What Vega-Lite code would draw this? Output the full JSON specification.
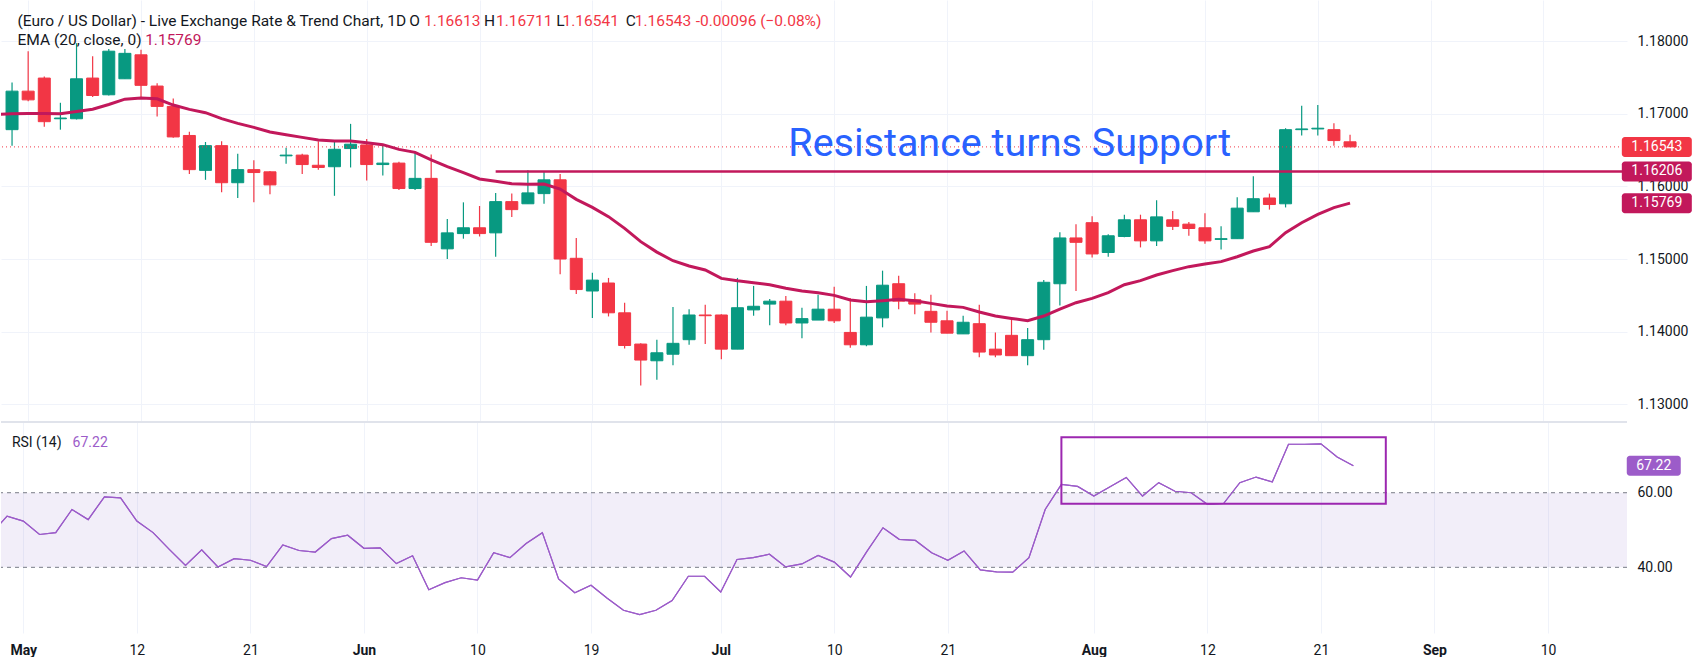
{
  "$schema": "https://vega.github.io/schema/vega-lite/v6.json",
  "padding": 0,
  "background": "white",
  "spacing": 0,
  "config": {
    "view": {"stroke": null},
    "font": "Roboto",
    "axis": {"labelFont": "Roboto", "labelColor": "#131722", "labelFontSize": 14, "gridColor": "#F0F3FA", "gridWidth": 1, "domain": false, "ticks": false, "title": null},
    "text": {"font": "Roboto"}
  },
  "resolve": {"scale": {"x": "independent", "y": "independent", "color": "independent"}},
  "datasets": {
    "candles": [
      {"i": -1, "o": 1.1678, "h": 1.1743, "l": 1.1656, "c": 1.1731},
      {"i": 0, "o": 1.1731, "h": 1.1786, "l": 1.1717, "c": 1.1719},
      {"i": 1, "o": 1.1749, "h": 1.1751, "l": 1.1682, "c": 1.1689},
      {"i": 2, "o": 1.1693, "h": 1.1715, "l": 1.1678, "c": 1.1694},
      {"i": 3, "o": 1.1693, "h": 1.1797, "l": 1.1692, "c": 1.1748},
      {"i": 4, "o": 1.1749, "h": 1.1779, "l": 1.1723, "c": 1.1725},
      {"i": 5, "o": 1.1726, "h": 1.1789, "l": 1.1725, "c": 1.1786},
      {"i": 6, "o": 1.1748, "h": 1.1789, "l": 1.1748, "c": 1.1783},
      {"i": 7, "o": 1.1781, "h": 1.1788, "l": 1.1723, "c": 1.1739},
      {"i": 8, "o": 1.1738, "h": 1.1742, "l": 1.1696, "c": 1.1710},
      {"i": 9, "o": 1.1710, "h": 1.1721, "l": 1.1667, "c": 1.1668},
      {"i": 10, "o": 1.1670, "h": 1.1675, "l": 1.1617, "c": 1.1623},
      {"i": 11, "o": 1.1622, "h": 1.1661, "l": 1.1609, "c": 1.1656},
      {"i": 12, "o": 1.1656, "h": 1.1662, "l": 1.1592, "c": 1.1605},
      {"i": 13, "o": 1.1605, "h": 1.1645, "l": 1.1584, "c": 1.1623},
      {"i": 14, "o": 1.1623, "h": 1.1636, "l": 1.1578, "c": 1.1619},
      {"i": 15, "o": 1.1620, "h": 1.1621, "l": 1.1589, "c": 1.1602},
      {"i": 16, "o": 1.1642, "h": 1.1653, "l": 1.1631, "c": 1.1643},
      {"i": 17, "o": 1.1643, "h": 1.1645, "l": 1.1617, "c": 1.1630},
      {"i": 18, "o": 1.1629, "h": 1.1662, "l": 1.1623, "c": 1.1626},
      {"i": 19, "o": 1.1627, "h": 1.1662, "l": 1.1587, "c": 1.1651},
      {"i": 20, "o": 1.1652, "h": 1.1686, "l": 1.1626, "c": 1.1658},
      {"i": 21, "o": 1.1657, "h": 1.1665, "l": 1.1608, "c": 1.1630},
      {"i": 22, "o": 1.1630, "h": 1.1657, "l": 1.1615, "c": 1.1632},
      {"i": 23, "o": 1.1632, "h": 1.1634, "l": 1.1595, "c": 1.1597},
      {"i": 24, "o": 1.1597, "h": 1.1646, "l": 1.1595, "c": 1.1611},
      {"i": 25, "o": 1.1611, "h": 1.1644, "l": 1.1518, "c": 1.1523},
      {"i": 26, "o": 1.1514, "h": 1.1555, "l": 1.1500, "c": 1.1536},
      {"i": 27, "o": 1.1535, "h": 1.1578, "l": 1.1528, "c": 1.1543},
      {"i": 28, "o": 1.1543, "h": 1.1573, "l": 1.1531, "c": 1.1535},
      {"i": 29, "o": 1.1536, "h": 1.1591, "l": 1.1503, "c": 1.1579},
      {"i": 30, "o": 1.1579, "h": 1.1590, "l": 1.1558, "c": 1.1568},
      {"i": 31, "o": 1.1576, "h": 1.1622, "l": 1.1576, "c": 1.1591},
      {"i": 32, "o": 1.1590, "h": 1.1620, "l": 1.1576, "c": 1.1609},
      {"i": 33, "o": 1.1609, "h": 1.1617, "l": 1.1479, "c": 1.1500},
      {"i": 34, "o": 1.1501, "h": 1.1529, "l": 1.1452, "c": 1.1458},
      {"i": 35, "o": 1.1456, "h": 1.1481, "l": 1.1419, "c": 1.1471},
      {"i": 36, "o": 1.1467, "h": 1.1474, "l": 1.1421, "c": 1.1426},
      {"i": 37, "o": 1.1426, "h": 1.1440, "l": 1.1377, "c": 1.1381},
      {"i": 38, "o": 1.1383, "h": 1.1384, "l": 1.1326, "c": 1.1361},
      {"i": 39, "o": 1.1360, "h": 1.1389, "l": 1.1334, "c": 1.1371},
      {"i": 40, "o": 1.1369, "h": 1.1434, "l": 1.1354, "c": 1.1384},
      {"i": 41, "o": 1.1389, "h": 1.1431, "l": 1.1382, "c": 1.1423},
      {"i": 42, "o": 1.1423, "h": 1.1437, "l": 1.1383, "c": 1.1422},
      {"i": 43, "o": 1.1423, "h": 1.1424, "l": 1.1362, "c": 1.1376},
      {"i": 44, "o": 1.1376, "h": 1.1474, "l": 1.1376, "c": 1.1433},
      {"i": 45, "o": 1.1430, "h": 1.1463, "l": 1.1422, "c": 1.1435},
      {"i": 46, "o": 1.1438, "h": 1.1445, "l": 1.1409, "c": 1.1442},
      {"i": 47, "o": 1.1442, "h": 1.1449, "l": 1.1409, "c": 1.1412},
      {"i": 48, "o": 1.1412, "h": 1.1433, "l": 1.1391, "c": 1.1418},
      {"i": 49, "o": 1.1416, "h": 1.1451, "l": 1.1416, "c": 1.1431},
      {"i": 50, "o": 1.1431, "h": 1.1462, "l": 1.1412, "c": 1.1415},
      {"i": 51, "o": 1.1399, "h": 1.1446, "l": 1.1378, "c": 1.1382},
      {"i": 52, "o": 1.1382, "h": 1.1463, "l": 1.1380, "c": 1.1420},
      {"i": 53, "o": 1.1419, "h": 1.1484, "l": 1.1406, "c": 1.1464},
      {"i": 54, "o": 1.1466, "h": 1.1477, "l": 1.1431, "c": 1.1442},
      {"i": 55, "o": 1.1444, "h": 1.1453, "l": 1.1424, "c": 1.1438},
      {"i": 56, "o": 1.1428, "h": 1.1451, "l": 1.1399, "c": 1.1413},
      {"i": 57, "o": 1.1415, "h": 1.1429, "l": 1.1398, "c": 1.1398},
      {"i": 58, "o": 1.1397, "h": 1.1422, "l": 1.1397, "c": 1.1413},
      {"i": 59, "o": 1.1411, "h": 1.1437, "l": 1.1365, "c": 1.1372},
      {"i": 60, "o": 1.1376, "h": 1.1399, "l": 1.1365, "c": 1.1368},
      {"i": 61, "o": 1.1395, "h": 1.1418, "l": 1.1367, "c": 1.1367},
      {"i": 62, "o": 1.1367, "h": 1.1405, "l": 1.1354, "c": 1.1389},
      {"i": 63, "o": 1.1389, "h": 1.1471, "l": 1.1375, "c": 1.1468},
      {"i": 64, "o": 1.1466, "h": 1.1537, "l": 1.1436, "c": 1.1529},
      {"i": 65, "o": 1.1529, "h": 1.1548, "l": 1.1456, "c": 1.1523},
      {"i": 66, "o": 1.1550, "h": 1.1559, "l": 1.1502, "c": 1.1507},
      {"i": 67, "o": 1.1509, "h": 1.1534, "l": 1.1503, "c": 1.1532},
      {"i": 68, "o": 1.1531, "h": 1.1561, "l": 1.1530, "c": 1.1554},
      {"i": 69, "o": 1.1554, "h": 1.1561, "l": 1.1516, "c": 1.1525},
      {"i": 70, "o": 1.1525, "h": 1.1581, "l": 1.1518, "c": 1.1558},
      {"i": 71, "o": 1.1554, "h": 1.1566, "l": 1.1540, "c": 1.1545},
      {"i": 72, "o": 1.1548, "h": 1.1551, "l": 1.1532, "c": 1.1542},
      {"i": 73, "o": 1.1543, "h": 1.1563, "l": 1.1521, "c": 1.1525},
      {"i": 74, "o": 1.1527, "h": 1.1545, "l": 1.1513, "c": 1.1528},
      {"i": 75, "o": 1.1528, "h": 1.1585, "l": 1.1528, "c": 1.1570},
      {"i": 76, "o": 1.1565, "h": 1.1614, "l": 1.1565, "c": 1.1583},
      {"i": 77, "o": 1.1584, "h": 1.1590, "l": 1.1568, "c": 1.1575},
      {"i": 78, "o": 1.1576, "h": 1.1680, "l": 1.1571, "c": 1.1678},
      {"i": 79, "o": 1.1678, "h": 1.1711, "l": 1.1670, "c": 1.1679},
      {"i": 80, "o": 1.1679, "h": 1.1712, "l": 1.1670, "c": 1.1680},
      {"i": 81, "o": 1.1678, "h": 1.1687, "l": 1.1656, "c": 1.1663},
      {"i": 82, "o": 1.16613, "h": 1.16711, "l": 1.16541, "c": 1.16543}
    ],
    "ema": [
      {"i": -2, "v": 1.1699}, {"i": -1, "v": 1.16998}, {"i": 0, "v": 1.17003}, {"i": 1, "v": 1.17003},
      {"i": 2, "v": 1.16998}, {"i": 3, "v": 1.1703}, {"i": 4, "v": 1.17062}, {"i": 5, "v": 1.17127},
      {"i": 6, "v": 1.172}, {"i": 7, "v": 1.17214}, {"i": 8, "v": 1.17205}, {"i": 9, "v": 1.17119},
      {"i": 10, "v": 1.17059}, {"i": 11, "v": 1.17014}, {"i": 12, "v": 1.16931}, {"i": 13, "v": 1.16867},
      {"i": 14, "v": 1.16812}, {"i": 15, "v": 1.16748}, {"i": 16, "v": 1.16711}, {"i": 17, "v": 1.16674},
      {"i": 18, "v": 1.16637}, {"i": 19, "v": 1.16624}, {"i": 20, "v": 1.16624}, {"i": 21, "v": 1.16601},
      {"i": 22, "v": 1.16574}, {"i": 23, "v": 1.16509}, {"i": 24, "v": 1.16468}, {"i": 25, "v": 1.16363},
      {"i": 26, "v": 1.16271}, {"i": 27, "v": 1.16188}, {"i": 28, "v": 1.16101}, {"i": 29, "v": 1.16069},
      {"i": 30, "v": 1.16037}, {"i": 31, "v": 1.16028}, {"i": 32, "v": 1.16032}, {"i": 33, "v": 1.15963},
      {"i": 34, "v": 1.15821}, {"i": 35, "v": 1.15711}, {"i": 36, "v": 1.15583}, {"i": 37, "v": 1.15422},
      {"i": 38, "v": 1.15239}, {"i": 39, "v": 1.15095}, {"i": 40, "v": 1.14977}, {"i": 41, "v": 1.14904},
      {"i": 42, "v": 1.14849}, {"i": 43, "v": 1.14734}, {"i": 44, "v": 1.14702}, {"i": 45, "v": 1.14675},
      {"i": 46, "v": 1.14647}, {"i": 47, "v": 1.14597}, {"i": 48, "v": 1.1456}, {"i": 49, "v": 1.14537},
      {"i": 50, "v": 1.145}, {"i": 51, "v": 1.14436}, {"i": 52, "v": 1.14413}, {"i": 53, "v": 1.14427},
      {"i": 54, "v": 1.14445}, {"i": 55, "v": 1.14427}, {"i": 56, "v": 1.1439}, {"i": 57, "v": 1.14354},
      {"i": 58, "v": 1.14335}, {"i": 59, "v": 1.14271}, {"i": 60, "v": 1.14216}, {"i": 61, "v": 1.14182},
      {"i": 62, "v": 1.14152}, {"i": 63, "v": 1.14216}, {"i": 64, "v": 1.14312}, {"i": 65, "v": 1.14399},
      {"i": 66, "v": 1.14459}, {"i": 67, "v": 1.14537}, {"i": 68, "v": 1.14647}, {"i": 69, "v": 1.14702},
      {"i": 70, "v": 1.1478}, {"i": 71, "v": 1.1484}, {"i": 72, "v": 1.14895}, {"i": 73, "v": 1.14931},
      {"i": 74, "v": 1.14964}, {"i": 75, "v": 1.15032}, {"i": 76, "v": 1.1511}, {"i": 77, "v": 1.1517},
      {"i": 78, "v": 1.15363}, {"i": 79, "v": 1.155}, {"i": 80, "v": 1.15615}, {"i": 81, "v": 1.15707},
      {"i": 82, "v": 1.15769}
    ],
    "rsi": [
      {"i": -2, "r": 49.0}, {"i": -1, "r": 53.7}, {"i": 0, "r": 52.4}, {"i": 1, "r": 48.8},
      {"i": 2, "r": 49.3}, {"i": 3, "r": 55.5}, {"i": 4, "r": 52.8}, {"i": 5, "r": 58.9},
      {"i": 6, "r": 58.6}, {"i": 7, "r": 52.4}, {"i": 8, "r": 49.3}, {"i": 9, "r": 44.8},
      {"i": 10, "r": 40.5}, {"i": 11, "r": 44.7}, {"i": 12, "r": 40.1}, {"i": 13, "r": 42.3},
      {"i": 14, "r": 41.9}, {"i": 15, "r": 40.2}, {"i": 16, "r": 46.0}, {"i": 17, "r": 44.5},
      {"i": 18, "r": 44.1}, {"i": 19, "r": 47.7}, {"i": 20, "r": 48.6}, {"i": 21, "r": 45.1},
      {"i": 22, "r": 45.2}, {"i": 23, "r": 41.0}, {"i": 24, "r": 43.1}, {"i": 25, "r": 34.0},
      {"i": 26, "r": 35.9}, {"i": 27, "r": 37.2}, {"i": 28, "r": 36.6}, {"i": 29, "r": 43.9},
      {"i": 30, "r": 42.6}, {"i": 31, "r": 46.4}, {"i": 32, "r": 49.3}, {"i": 33, "r": 36.9},
      {"i": 34, "r": 33.2}, {"i": 35, "r": 35.2}, {"i": 36, "r": 31.7}, {"i": 37, "r": 28.5},
      {"i": 38, "r": 27.3}, {"i": 39, "r": 28.5}, {"i": 40, "r": 31.1}, {"i": 41, "r": 37.6},
      {"i": 42, "r": 37.6}, {"i": 43, "r": 33.4}, {"i": 44, "r": 42.1}, {"i": 45, "r": 42.6},
      {"i": 46, "r": 43.5}, {"i": 47, "r": 40.1}, {"i": 48, "r": 40.9}, {"i": 49, "r": 43.2},
      {"i": 50, "r": 41.4}, {"i": 51, "r": 37.4}, {"i": 52, "r": 44.2}, {"i": 53, "r": 50.6},
      {"i": 54, "r": 47.5}, {"i": 55, "r": 47.2}, {"i": 56, "r": 43.9}, {"i": 57, "r": 41.9},
      {"i": 58, "r": 44.4}, {"i": 59, "r": 39.3}, {"i": 60, "r": 38.8}, {"i": 61, "r": 38.7},
      {"i": 62, "r": 42.6}, {"i": 63, "r": 55.5}, {"i": 64, "r": 62.2}, {"i": 65, "r": 61.7},
      {"i": 66, "r": 59.1}, {"i": 67, "r": 61.6}, {"i": 68, "r": 64.1}, {"i": 69, "r": 59.1},
      {"i": 70, "r": 62.7}, {"i": 71, "r": 60.4}, {"i": 72, "r": 60.0}, {"i": 73, "r": 56.9},
      {"i": 74, "r": 57.1}, {"i": 75, "r": 62.7}, {"i": 76, "r": 64.2}, {"i": 77, "r": 62.9},
      {"i": 78, "r": 73.0}, {"i": 79, "r": 73.0}, {"i": 80, "r": 73.1}, {"i": 81, "r": 69.6},
      {"i": 82, "r": 67.22}
    ],
    "header": [
      {"i": -0.66, "p": 1.182752, "t": "(Euro / US Dollar) - Live Exchange Rate & Trend Chart, 1D", "k": "dark"},
      {"i": 23.64, "p": 1.182752, "t": "O", "k": "dark"},
      {"i": 24.56, "p": 1.182752, "t": "1.16613", "k": "red"},
      {"i": 28.28, "p": 1.182752, "t": "H", "k": "dark"},
      {"i": 29.02, "p": 1.182752, "t": "1.16711", "k": "red"},
      {"i": 32.76, "p": 1.182752, "t": "L", "k": "dark"},
      {"i": 33.15, "p": 1.182752, "t": "1.16541", "k": "red"},
      {"i": 37.07, "p": 1.182752, "t": "C", "k": "dark"},
      {"i": 37.63, "p": 1.182752, "t": "1.16543", "k": "red"},
      {"i": 41.41, "p": 1.182752, "t": "-0.00096 (\u22120.08%)", "k": "red"},
      {"i": -0.66, "p": 1.180138, "t": "EMA (20, close, 0)", "k": "dark"},
      {"i": 7.256, "p": 1.180138, "t": "1.15769", "k": "ema"}
    ],
    "tags": [
      {"p": 1.16543, "t": "1.16543", "k": "red"},
      {"p": 1.16206, "t": "1.16206", "k": "ema"},
      {"p": 1.15769, "t": "1.15769", "k": "ema"}
    ],
    "level": [{"i": 29, "p": 1.16206, "note": "Resistance turns Support", "ti": 74.62, "tp": 1.164177}],
    "rsiText": [
      {"i": -0.703, "r": 73.24, "t": "RSI (14)", "k": "dark"},
      {"i": 3.04, "r": 73.24, "t": "67.22", "k": "rsi"}
    ],
    "rsiTag": [{"r": 67.22, "t": "67.22"}],
    "levels": [{"r": 60}, {"r": 40}],
    "box": [{"x1": 64, "x2": 84, "y1": 57.05, "y2": 74.9}]
  },
  "vconcat": [
    {
      "width": 1626,
      "height": 421,
      "layer": [
        {
          "data": {"name": "candles"},
          "mark": {"type": "rule", "strokeWidth": 1.2},
          "encoding": {
            "x": {
              "field": "i", "type": "quantitative",
              "scale": {"domain": [-1.375, 98.87], "nice": false, "zero": false},
              "axis": {"values": [0, 7, 14, 21, 28, 35, 43, 50, 57, 66, 73, 80, 87, 94], "labels": false, "grid": true, "minExtent": 0, "maxExtent": 0}
            },
            "y": {
              "field": "h", "type": "quantitative",
              "scale": {"domain": [1.127713, 1.185642], "nice": false, "zero": false},
              "axis": {"orient": "right", "values": [1.13, 1.14, 1.15, 1.16, 1.17, 1.18], "format": ".5f", "grid": true, "labelPadding": 10}
            },
            "y2": {"field": "l"},
            "color": {"condition": {"test": "datum.c >= datum.o", "value": "#089981"}, "value": "#F23645"}
          }
        },
        {
          "data": {"name": "candles"},
          "mark": {"type": "bar", "width": 12, "strokeWidth": 1},
          "encoding": {
            "x": {"field": "i", "type": "quantitative"},
            "y": {"field": "o", "type": "quantitative"},
            "y2": {"field": "c"},
            "color": {"condition": {"test": "datum.c >= datum.o", "value": "#089981"}, "value": "#F23645"},
            "stroke": {"condition": {"test": "datum.c >= datum.o", "value": "#089981"}, "value": "#F23645"}
          }
        },
        {
          "data": {"name": "tags"},
          "transform": [{"filter": "datum.k == 'red'"}],
          "mark": {"type": "rule", "strokeDash": [1, 3], "color": "#F23645", "strokeWidth": 1},
          "encoding": {"y": {"field": "p", "type": "quantitative"}}
        },
        {
          "data": {"name": "ema"},
          "mark": {"type": "line", "color": "#C2185B", "strokeWidth": 3, "clip": true},
          "encoding": {
            "x": {"field": "i", "type": "quantitative"},
            "y": {"field": "v", "type": "quantitative"}
          }
        },
        {
          "data": {"name": "level"},
          "mark": {"type": "rule", "color": "#C2185B", "strokeWidth": 2.5},
          "encoding": {
            "x": {"field": "i", "type": "quantitative"},
            "x2": {"datum": 98.87},
            "y": {"field": "p", "type": "quantitative"}
          }
        },
        {
          "data": {"name": "level"},
          "mark": {"type": "text", "align": "right", "baseline": "alphabetic", "fontSize": 39.5, "color": "#2962FF"},
          "encoding": {
            "x": {"field": "ti", "type": "quantitative"},
            "y": {"field": "tp", "type": "quantitative"},
            "text": {"field": "note"}
          }
        },
        {
          "data": {"name": "header"},
          "mark": {"type": "text", "align": "left", "baseline": "middle", "fontSize": 15.5},
          "encoding": {
            "x": {"field": "i", "type": "quantitative"},
            "y": {"field": "p", "type": "quantitative"},
            "text": {"field": "t"},
            "color": {"field": "k", "type": "nominal", "scale": {"domain": ["dark", "red", "ema"], "range": ["#131722", "#F23645", "#C2185B"]}, "legend": null}
          }
        },
        {
          "data": {"name": "tags"},
          "mark": {"type": "tick", "orient": "vertical", "size": 20, "thickness": 70, "opacity": 1, "cornerRadius": 3},
          "encoding": {
            "x": {"datum": 101.03, "type": "quantitative"},
            "y": {"field": "p", "type": "quantitative"},
            "color": {"field": "k", "type": "nominal", "legend": null}
          }
        },
        {
          "data": {"name": "tags"},
          "mark": {"type": "text", "align": "center", "baseline": "middle", "fontSize": 14, "color": "white"},
          "encoding": {
            "x": {"datum": 101.03, "type": "quantitative"},
            "y": {"field": "p", "type": "quantitative"},
            "text": {"field": "t"}
          }
        }
      ]
    },
    {
      "width": 1626,
      "height": 211,
      "layer": [
        {
          "data": {"name": "rsi"},
          "mark": {"type": "line", "color": "#9C5CC9", "strokeWidth": 1.2, "clip": true},
          "encoding": {
            "x": {
              "field": "i", "type": "quantitative",
              "scale": {"domain": [-1.375, 98.87], "nice": false, "zero": false},
              "axis": {
                "values": [0, 7, 14, 21, 28, 35, 43, 50, 57, 66, 73, 80, 87, 94],
                "grid": true, "labelPadding": 10,
                "labelExpr": "['May','12','21','Jun','10','19','Jul','10','21','Aug','12','21','Sep','10'][indexof([0,7,14,21,28,35,43,50,57,66,73,80,87,94], datum.value)]",
                "labelFontWeight": {"condition": {"test": "indexof([0,21,43,66,87], datum.value) >= 0", "value": "bold"}, "value": "normal"}
              }
            },
            "y": {
              "field": "r", "type": "quantitative",
              "scale": {"domain": [22.39, 78.96], "nice": false, "zero": false},
              "axis": {"orient": "right", "values": [40, 60], "format": ".2f", "grid": false, "labelPadding": 10}
            }
          }
        },
        {
          "data": {"name": "box"},
          "mark": {"type": "rect", "color": "#7E57C2", "opacity": 0.1},
          "encoding": {
            "y": {"datum": 40, "type": "quantitative"},
            "y2": {"datum": 60}
          }
        },
        {
          "data": {"name": "levels"},
          "mark": {"type": "rule", "color": "#787B86", "strokeDash": [4, 4], "strokeWidth": 1},
          "encoding": {"y": {"field": "r", "type": "quantitative"}}
        },
        {
          "data": {"name": "rsi"},
          "mark": {"type": "line", "color": "#9C5CC9", "strokeWidth": 1.2, "clip": true},
          "encoding": {
            "x": {"field": "i", "type": "quantitative"},
            "y": {"field": "r", "type": "quantitative"}
          }
        },
        {
          "data": {"name": "box"},
          "mark": {"type": "rect", "fill": null, "fillOpacity": 0, "stroke": "#9C27B0", "strokeWidth": 2},
          "encoding": {
            "x": {"field": "x1", "type": "quantitative"},
            "x2": {"field": "x2"},
            "y": {"field": "y1", "type": "quantitative"},
            "y2": {"field": "y2"}
          }
        },
        {
          "data": {"name": "box"},
          "mark": {"type": "rule", "color": "#E0E3EB", "strokeWidth": 2},
          "encoding": {"y": {"datum": 78.96, "type": "quantitative"}}
        },
        {
          "data": {"name": "rsiText"},
          "mark": {"type": "text", "align": "left", "baseline": "middle", "fontSize": 14},
          "encoding": {
            "x": {"field": "i", "type": "quantitative"},
            "y": {"field": "r", "type": "quantitative"},
            "text": {"field": "t"},
            "color": {"field": "k", "type": "nominal", "scale": {"domain": ["dark", "rsi"], "range": ["#131722", "#9C5CC9"]}, "legend": null}
          }
        },
        {
          "data": {"name": "rsiTag"},
          "mark": {"type": "tick", "orient": "vertical", "size": 20, "thickness": 54, "opacity": 1, "cornerRadius": 3, "color": "#9C5CC9"},
          "encoding": {
            "x": {"datum": 100.52, "type": "quantitative"},
            "y": {"field": "r", "type": "quantitative"}
          }
        },
        {
          "data": {"name": "rsiTag"},
          "mark": {"type": "text", "align": "center", "baseline": "middle", "fontSize": 14, "color": "white"},
          "encoding": {
            "x": {"datum": 100.52, "type": "quantitative"},
            "y": {"field": "r", "type": "quantitative"},
            "text": {"field": "t"}
          }
        }
      ]
    }
  ]
}
